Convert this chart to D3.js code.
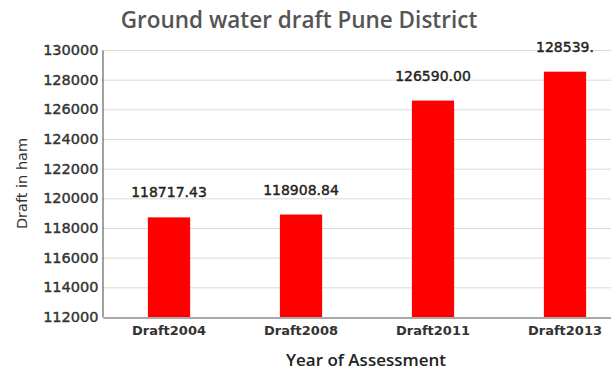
<!DOCTYPE html>
<html>
<head>
<meta charset="utf-8">
<script src="https://cdn.jsdelivr.net/npm/d3@7"></script>
<style>
  body { margin: 0; background: #fff; }
  svg { display: block; }
</style>
</head>
<body>
<div id="chart"></div>
<script>
const categories = ["Draft2004", "Draft2008", "Draft2011", "Draft2013"]
const drafts = [118717.43, 118908.84, 126590.00, 128539]
const valueLabels = ["118717.43", "118908.84", "126590.00", "128539."]
const yTicks = d3.range(112000, 130001, 2000)

const W = 611, H = 371
const m = { left: 102, right: 631, top: 50, bottom: 317 }

const svg = d3.select("#chart").append("svg")
    .attr("width", W)
    .attr("height", H)

const x = d3.scaleBand()
    .domain(categories)
    .range([m.left + 1, m.right])
    .paddingInner(0.68)
    .paddingOuter(0.34)

const y = d3.scaleLinear()
    .domain([112000, 130000])
    .range([m.bottom, m.top])

// gridlines
svg.append("g")
    .selectAll("line")
    .data(yTicks.slice(1))
    .join("line")
    .attr("x1", m.left)
    .attr("x2", W)
    .attr("y1", d => y(d) + 0.5)
    .attr("y2", d => y(d) + 0.5)
    .attr("stroke", "#d9d9d9")
    .attr("stroke-width", 1)

// y axis
const yAxis = svg.append("g")
    .attr("transform", `translate(${m.left + 0.5},0)`)
    .call(d3.axisLeft(y).tickValues(yTicks).tickSize(0).tickPadding(4).tickFormat(d3.format("d")))
yAxis.select(".domain").attr("stroke", "#444")
yAxis.selectAll("text")
    .attr("font-family", "DejaVu Sans")
    .attr("font-size", "14.5px")
    .attr("fill", "#333")
    .attr("stroke", "#333")
    .attr("stroke-width", 0.4)

// bars
svg.append("g")
    .selectAll("rect")
    .data(drafts)
    .join("rect")
    .attr("x", (d, i) => x(categories[i]))
    .attr("width", x.bandwidth())
    .attr("y", d => y(d))
    .attr("height", d => y(112000) - y(d))
    .attr("fill", "#ff0000")

// bottom axis
const xAxis = svg.append("g")
    .attr("transform", `translate(0,${m.bottom + 0.5})`)
    .call(d3.axisBottom(x).tickSize(0).tickPadding(8))
xAxis.select(".domain").attr("stroke", "#555")
xAxis.selectAll("text")
    .attr("font-family", "DejaVu Sans")
    .attr("font-weight", "bold")
    .attr("font-size", "13px")
    .attr("fill", "#333")

// value labels
svg.append("g")
    .selectAll("text")
    .data(drafts)
    .join("text")
    .attr("x", (d, i) => x(categories[i]) + x.bandwidth() / 2)
    .attr("y", d => y(d) - 20)
    .attr("text-anchor", "middle")
    .attr("font-family", "DejaVu Sans")
    .attr("font-size", "14px")
    .attr("fill", "#222")
    .attr("stroke", "#222")
    .attr("stroke-width", 0.4)
    .text((d, i) => valueLabels[i])

// title
svg.append("text")
    .attr("x", 299)
    .attr("y", 28)
    .attr("text-anchor", "middle")
    .attr("font-family", "Open Sans")
    .attr("font-weight", 600)
    .attr("font-size", "22.5px")
    .attr("fill", "#555")
    .text("Ground water draft Pune District")

// axis titles
svg.append("text")
    .attr("transform", `translate(27,${(m.top + m.bottom) / 2}) rotate(-90)`)
    .attr("text-anchor", "middle")
    .attr("font-family", "DejaVu Sans")
    .attr("font-size", "14.5px")
    .attr("fill", "#333")
    .text("Draft in ham")

svg.append("text")
    .attr("x", 366)
    .attr("y", 366)
    .attr("text-anchor", "middle")
    .attr("font-family", "Open Sans")
    .attr("font-weight", 600)
    .attr("font-size", "17px")
    .attr("fill", "#222")
    .text("Year of Assessment")
</script>
</body>
</html>
